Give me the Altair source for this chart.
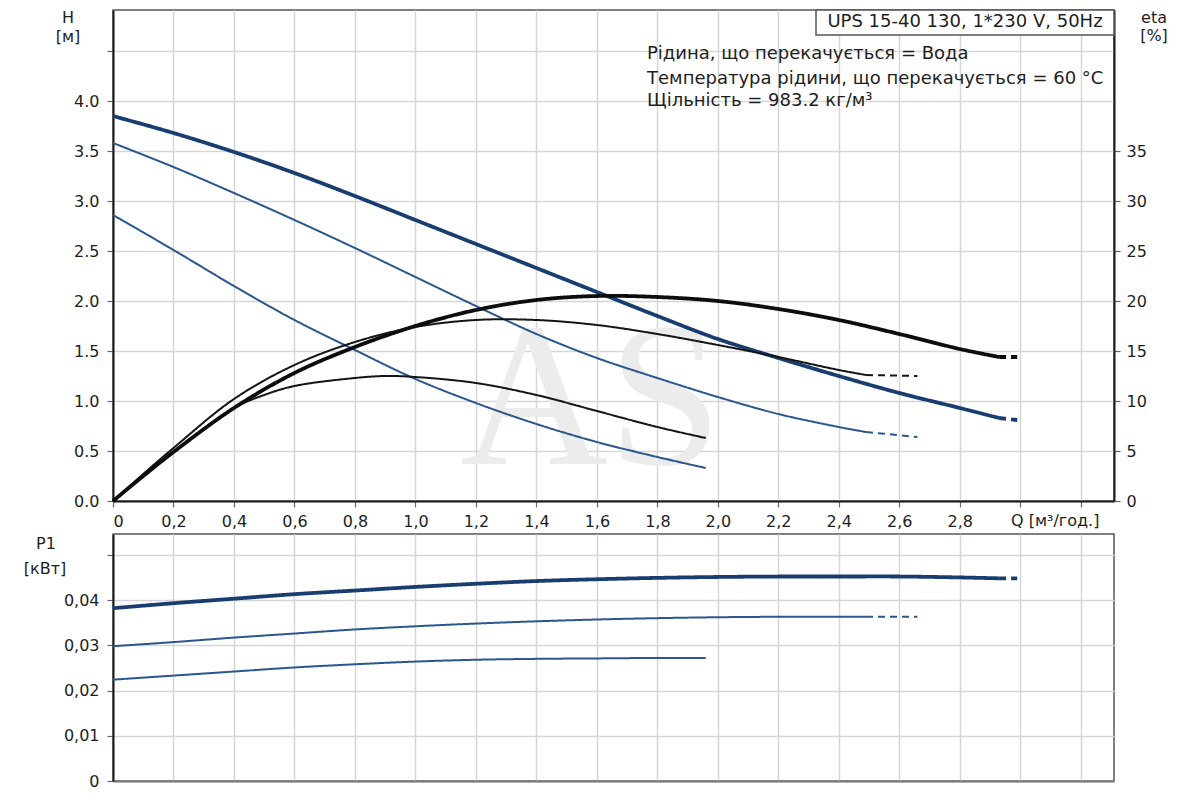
import altair as alt
import pandas as pd

# ---------------- data ----------------
# Head H [m] vs flow Q [m3/h], speeds 3 / 2 / 1
q_h3 = [0, 0.2, 0.4, 0.6, 0.8, 1.0, 1.2, 1.4, 1.6, 1.8, 2.0, 2.2, 2.4, 2.6, 2.8, 2.93]
h3 = [3.85, 3.68, 3.49, 3.28, 3.05, 2.81, 2.57, 2.33, 2.09, 1.85, 1.62, 1.43, 1.25, 1.08, 0.93, 0.83]
q_h3_ext = [2.93, 2.99]
h3_ext = [0.83, 0.81]

q_h2 = [0, 0.2, 0.4, 0.6, 0.8, 1.0, 1.2, 1.4, 1.6, 1.8, 2.0, 2.2, 2.4, 2.49]
h2 = [3.58, 3.34, 3.08, 2.81, 2.53, 2.24, 1.95, 1.67, 1.43, 1.23, 1.04, 0.87, 0.74, 0.69]
q_h2_ext = [2.49, 2.66]
h2_ext = [0.69, 0.64]

q_h1 = [0, 0.2, 0.4, 0.6, 0.8, 1.0, 1.2, 1.4, 1.6, 1.8, 1.96]
h1 = [2.86, 2.51, 2.15, 1.81, 1.51, 1.22, 0.98, 0.77, 0.59, 0.44, 0.33]

# Efficiency eta [%]
q_e3 = [0, 0.1, 0.2, 0.4, 0.6, 0.8, 1.0, 1.2, 1.4, 1.6, 1.8, 2.0, 2.2, 2.4, 2.6, 2.8, 2.93]
e3 = [0, 2.5, 4.9, 9.3, 12.8, 15.4, 17.5, 19.1, 20.1, 20.5, 20.4, 20.0, 19.2, 18.1, 16.7, 15.2, 14.4]
q_e3_ext = [2.93, 2.99]
e3_ext = [14.4, 14.4]

q_e2 = [0, 0.1, 0.2, 0.4, 0.6, 0.8, 1.0, 1.2, 1.4, 1.6, 1.8, 2.0, 2.2, 2.4, 2.49]
e2 = [0, 2.7, 5.3, 10.2, 13.6, 15.9, 17.4, 18.1, 18.1, 17.6, 16.7, 15.6, 14.4, 13.1, 12.6]
q_e2_ext = [2.49, 2.66]
e2_ext = [12.6, 12.5]

q_e1 = [0, 0.1, 0.2, 0.4, 0.5, 0.6, 0.8, 0.9, 1.0, 1.2, 1.4, 1.6, 1.8, 1.96]
e1 = [0, 2.5, 4.9, 9.3, 10.6, 11.5, 12.3, 12.5, 12.4, 11.8, 10.6, 9.0, 7.4, 6.3]

# Power P1 [kW]
q_p3 = [0, 0.2, 0.4, 0.6, 0.8, 1.0, 1.2, 1.4, 1.6, 1.8, 2.0, 2.2, 2.4, 2.6, 2.8, 2.93]
p3 = [0.0382, 0.0393, 0.0403, 0.0413, 0.0421, 0.0429, 0.0436, 0.0442, 0.0446, 0.0449,
      0.0451, 0.0452, 0.0452, 0.0452, 0.0450, 0.0448]
q_p3_ext = [2.93, 2.99]
p3_ext = [0.0448, 0.0448]

q_p2 = [0, 0.2, 0.4, 0.6, 0.8, 1.0, 1.2, 1.4, 1.6, 1.8, 2.0, 2.2, 2.4, 2.49]
p2 = [0.0298, 0.0307, 0.0317, 0.0326, 0.0335, 0.0342, 0.0348, 0.0353, 0.0357, 0.0360,
      0.0362, 0.0363, 0.0363, 0.0363]
q_p2_ext = [2.49, 2.66]
p2_ext = [0.0363, 0.0363]

q_p1 = [0, 0.2, 0.4, 0.6, 0.8, 1.0, 1.2, 1.4, 1.6, 1.8, 1.96]
p1 = [0.0224, 0.0233, 0.0242, 0.0251, 0.0258, 0.0264, 0.0268, 0.0270, 0.0271, 0.0272, 0.0272]

q_ticks = [0, 0.2, 0.4, 0.6, 0.8, 1.0, 1.2, 1.4, 1.6, 1.8, 2.0, 2.2, 2.4, 2.6, 2.8, 3.0, 3.2]
h_ticks = [0, 0.5, 1.0, 1.5, 2.0, 2.5, 3.0, 3.5, 4.0, 4.5]
eta_ticks = [0, 5, 10, 15, 20, 25, 30, 35]
p_ticks = [0, 0.01, 0.02, 0.03, 0.04, 0.05]

title_box = "UPS 15-40 130, 1*230 V, 50Hz"
info_lines = [
    "Рідина, що перекачується = Вода",
    "Температура рідини, що перекачується = 60 °C",
    "Щільність = 983.2 кг/м³",
]


def seg(series, seg_kind, q, v):
    return pd.DataFrame({"Q": q, "v": v, "series": series, "seg": seg_kind})


df_h = pd.concat([
    seg("s3", "solid", q_h3, h3), seg("s3", "ext", q_h3_ext, h3_ext),
    seg("s2", "solid", q_h2, h2), seg("s2", "ext", q_h2_ext, h2_ext),
    seg("s1", "solid", q_h1, h1),
])
df_e = pd.concat([
    seg("s3", "solid", q_e3, e3), seg("s3", "ext", q_e3_ext, e3_ext),
    seg("s2", "solid", q_e2, e2), seg("s2", "ext", q_e2_ext, e2_ext),
    seg("s1", "solid", q_e1, e1),
])
df_p = pd.concat([
    seg("s3", "solid", q_p3, p3), seg("s3", "ext", q_p3_ext, p3_ext),
    seg("s2", "solid", q_p2, p2), seg("s2", "ext", q_p2_ext, p2_ext),
    seg("s1", "solid", q_p1, p1),
])

FONT = "DejaVu Sans"
TXT = "#1e1e1e"
W = 1001
H_TOP = 491
H_BOT = 247
BLUE_THIN = "#2a5790"
BLUE_THICK = "#183d70"

xscale = alt.Scale(domain=[0, 3.31], nice=False, zero=False)
dash_scale = alt.Scale(domain=["solid", "ext"], range=[[1, 0], [7, 5]])

x_top_axis = alt.Axis(
    values=q_ticks, title=None, grid=True, tickSize=6, labelPadding=6,
    labelExpr="datum.value > 2.85 ? '' : (datum.value == 0 ? '0' : replace(format(datum.value, '.1f'), '.', ','))",
    domainColor="#1a1a1a", domainWidth=2,
)
x_bot_axis = alt.Axis(values=q_ticks, title=None, grid=True, labels=False, ticks=False,
                      domainColor="#777777", domainWidth=2)


def line_layers(df, thin_color, thick_color, yenc, xaxis):
    out = []
    for flt, sw, col in (("datum.series != 's3'", 2.0, thin_color),
                         ("datum.series == 's3'", 3.8, thick_color)):
        out.append(
            alt.Chart(df).transform_filter(flt).mark_line(
                interpolate="catmull-rom", strokeCap="butt", color=col, strokeWidth=sw
            ).encode(
                x=alt.X("Q:Q", scale=xscale, axis=xaxis),
                y=yenc,
                detail=["series:N", "seg:N"],
                strokeDash=alt.StrokeDash("seg:N", scale=dash_scale, legend=None),
            )
        )
    return out


def text_at(t, x, y, size=16, align="center", color=TXT, font=FONT, baseline="middle"):
    return alt.Chart(pd.DataFrame({"t": [t]})).mark_text(
        align=align, baseline=baseline, fontSize=size, font=font, color=color
    ).encode(x=alt.value(x), y=alt.value(y), text="t:N")


# --- top panel ---
h_axis = alt.Axis(values=h_ticks, title=None, grid=True, tickSize=6, labelPadding=8,
                  labelExpr="datum.value > 4.01 ? '' : format(datum.value, '.1f')",
                  domainColor="#1a1a1a", domainWidth=2)
h_y = alt.Y("v:Q", scale=alt.Scale(domain=[0, 4.91], nice=False), axis=h_axis)

eta_axis = alt.Axis(values=eta_ticks, title=None, grid=False, orient="right", tickSize=6,
                    labelPadding=6, domainColor="#1a1a1a", domainWidth=2)
e_y = alt.Y("v:Q", scale=alt.Scale(domain=[0, 49.1], nice=False), axis=eta_axis)

h_layer = alt.layer(*line_layers(df_h, BLUE_THIN, BLUE_THICK, h_y, x_top_axis))
e_layer = alt.layer(*line_layers(df_e, "#151515", "#0d0d0d", e_y, x_top_axis))

watermark = text_at("AS", 478, 392, size=205, font="Liberation Serif", color="#ececec")

box = alt.Chart(pd.DataFrame({"t": [title_box]})).mark_rect(
    fill="white", stroke="#555555", strokeWidth=1.5
).encode(x=alt.value(703), x2=alt.value(1001), y=alt.value(0), y2=alt.value(25))

top_layers = [
    watermark,
    h_layer,
    e_layer,
    box,
    text_at(title_box, 852, 12, size=18),
    text_at(info_lines[0], 534, 44, size=18, align="left"),
    text_at(info_lines[1], 534, 69, size=18, align="left"),
    text_at(info_lines[2], 534, 91, size=18, align="left"),
    text_at("H", -45, 8),
    text_at("[м]", -45, 27),
    text_at("eta", 1041, 8),
    text_at("[%]", 1041, 26),
    text_at("Q [м³/год.]", 898, 511, align="left"),
    alt.Chart(pd.DataFrame({"t": [0]})).mark_rule(color="white", strokeWidth=1).encode(
        x=alt.value(-100), x2=alt.value(-99), y=alt.value(520)),
]
top = alt.layer(*top_layers).resolve_scale(y="independent").properties(width=W, height=H_TOP)

# --- bottom panel ---
p_axis = alt.Axis(values=p_ticks, title=None, grid=True, tickSize=6, labelPadding=8,
                  labelExpr="datum.value > 0.045 ? '' : (datum.value == 0 ? '0' : replace(format(datum.value, '.2f'), '.', ','))",
                  domainColor="#1a1a1a", domainWidth=2)
p_y = alt.Y("v:Q", scale=alt.Scale(domain=[0, 0.0546], nice=False), axis=p_axis)

bottom = alt.layer(
    *line_layers(df_p, BLUE_THIN, BLUE_THICK, p_y, x_bot_axis),
    text_at("P1", -67, 10),
    text_at("[кВт]", -68, 35),
    alt.Chart(pd.DataFrame({"t": [0]})).mark_rule(color="white", strokeWidth=1).encode(
        x=alt.value(-100), x2=alt.value(-99), y=alt.value(100)),
).properties(width=W, height=H_BOT)

chart = alt.vconcat(top, bottom, spacing=1).properties(
    padding={"left": 3, "top": 0, "right": 5, "bottom": 5}
).configure_view(
    stroke="#555555", strokeWidth=1.5
).configure_axis(
    labelFont=FONT, labelFontSize=16, labelColor=TXT,
    gridColor="#d6d6d6", gridWidth=1.5,
    tickColor="#666666", tickWidth=1.2,
)

chart.save("out.html", embed_options={"renderer": "svg", "actions": False})
